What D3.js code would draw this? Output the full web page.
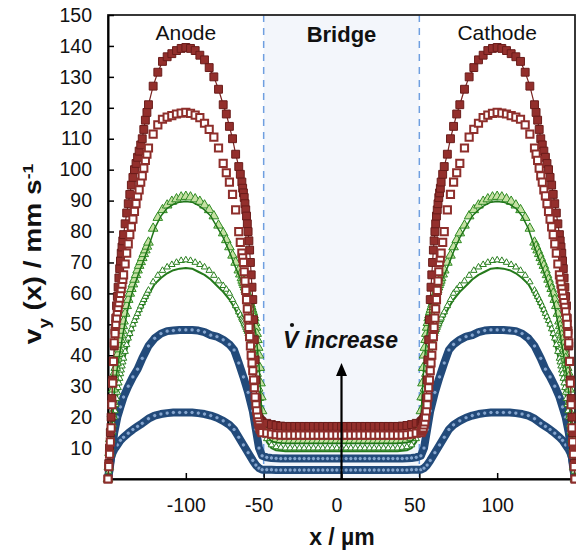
<!DOCTYPE html>
<html><head><meta charset="utf-8">
<script src="https://cdn.jsdelivr.net/npm/d3@7"></script>
<style>
html,body{margin:0;padding:0;background:#fff;}
svg{display:block;font-family:"Liberation Sans",Arial,Helvetica,sans-serif;}
</style></head><body>
<svg id="chart" width="576" height="552"></svg>
<script>
// ---------- data ----------
// x positions (µm): anode channel, bridge, cathode channel
const xLeft = [-150,-149,-148,-147,-146,-144,-142,-140,-137,-134,-131,-128,-124,-120,-116,-112,-108,-104,-100,-96,-92,-88,-84,-80,-76,-72,-69,-66,-63,-60,-57,-55,-53,-51];
const xBridge = [-48,-45,-42,-39,-36,-33,-30,-27,-24,-21,-18,-15,-12,-9,-6,-3,0,3,6,9,12,15,18,21,24,27,30,33,36,39,42,45,48];
const xRight = [51,53,55,57,60,63,66,69,72,76,80,84,88,92,96,100,104,108,112,116,120,124,128,131,134,137,140,142,144,146,147,148,149,150];
// finer x positions used by the marker series
const xDenseL = [-150,-149.5,-149,-148.5,-148,-147.5,-147,-146.5,-146,-145.5,-145,-144.5,-144,-143.5,-143,-142.5,-142,-141.5,-141,-140.5,-140,
  -139,-138,-137,-136,-135,-134,-133,-132,-131,-130,-129,-128,-127,-126,-125,-124,
  -121,-118,-115,-112,-109,-106,-103,-100,-97,-94,-91,-88,-85,-82,-79,
  -76,-74,-72,-70,-68,-66,-65,-64,
  -63.5,-63,-62.5,-62,-61.5,-61,-60.5,-60,-59.5,-59,-58.5,-58,-57.5,-57,-56.5,-56,-55.5,-55,-54.5,-54,-53.5,-53,-52.5,-52,-51.5,-51];
const xDenseR = [51,51.5,52,52.5,53,53.5,54,54.5,55,55.5,56,56.5,57,57.5,58,58.5,59,59.5,60,60.5,61,61.5,62,62.5,63,63.5,
  64,65,66,68,70,72,74,76,
  79,82,85,88,91,94,97,100,103,106,109,112,115,118,121,
  124,125,126,127,128,129,130,131,132,133,134,135,136,137,138,139,
  140,140.5,141,141.5,142,142.5,143,143.5,144,144.5,145,145.5,146,146.5,147,147.5,148,148.5,149,149.5,150];

const xTicks = [-100,-50,0,50,100];
const yTicks = [10,20,30,40,50,60,70,80,90,100,110,120,130,140,150];
const regionLabels = ["Anode","Bridge","Cathode"];
const regionCenters = [-100,0,100];
const bridgeEdges = [-50,50];

// red filled squares (highest flow rate) – dense grid
const redFilledL = [0,5,10,15,20,26,32,38,43,48,52,56,59,62,65,68,70.5,73,75,77,79,
  82.5,86,89,92,95,97.5,100,102,104,106,108,110,113,116,118.5,121,
  127,131.5,135,136.5,137.5,138.5,139.2,139.5,139.2,138.5,137,135.5,133,130,126,
  121,118,114,110,105,101,98.5,96,
  94,92.5,91,89,87,85,82.5,80,77,74,70,66,62,58,51.5,45,38.5,32,26,21,20,19.5,19,18.8,18.6,18.4];
const redFilledB = [18,17.6,17.3,17.1, 17,17,17,17,17, 17,17,17,17,17, 17,17,17,17,17, 17,17,17,17,17, 17,17,17,17,17, 17.1,17.3,17.6,18];
const redFilledR = [18.4,18.6,18.8,19,19.5,20,21,26,32,38.5,45,51.5,58,62,66,70,74,77,80,82.5,85,87,89,91,92.5,94,
  96,98.5,101,105,110,114,118,121,
  126,130,133,135.5,137,138.5,139.2,139.5,139.2,138.5,137.5,136.5,135,131.5,127,
  121,118.5,116,113,110,108,106,104,102,100,97.5,95,92,89,86,82.5,
  79,77,75,73,70.5,68,65,62,59,56,52,48,43,38,32,26,20,15,10,5,0];
// red open squares – dense grid
const redOpenL = [0,4,8,12,16.5,24,31,38,44,47,50,52,54,55.5,57,58.5,60,61.5,63,64.5,66,
  69.5,73,76,79,81.5,84,86.5,89,91.5,93.5,96,98,100.5,103,105,107,
  111.5,114.5,116.3,117,117.5,118,118.3,118.5,118.2,117.6,116.8,115,113,110.5,107,
  102,99,96,92,87,80,76.5,73,
  71.5,70,67,64,61,58,55,52,49,46,43,40,37.5,35,32,29.5,26.5,24,22,20,18.5,17.5,16.5,16,15.5,15];
const redOpenB = [14.8,14.5,14.3,14.2, 14.2,14.2,14.2,14.2,14.2, 14.2,14.2,14.2,14.2,14.2, 14.2,14.2,14.2,14.2,14.2, 14.2,14.2,14.2,14.2,14.2, 14.2,14.2,14.2,14.2,14.2, 14.2,14.3,14.5,14.8];
const redOpenR = [15,15.5,16,16.5,17.5,18.5,20,22,24,26.5,29.5,32,35,37.5,40,43,46,49,52,55,58,61,64,67,70,71.5,
  73,76.5,80,87,92,96,99,102,
  107,110.5,113,115,116.8,117.6,118.2,118.5,118.3,118,117.5,117,116.3,114.5,111.5,
  107,105,103,100.5,98,96,93.5,91.5,89,86.5,84,81.5,79,76,73,69.5,
  66,64.5,63,61.5,60,58.5,57,55.5,54,52,50,47,44,38,31,24,16.5,12,8,4,0];
// light green triangles – dense grid
const greenFillL = [0,4,8.5,13,17,21,25,29,33,34.5,36,37.5,39,40.5,42,43.5,45,46.5,48,49.5,51,
  53.5,56,58,60,61.5,63,64.5,66,67.5,69,70.2,71.5,72.8,74,75.2,76.5,
  81,84.5,87,88.5,89.7,90.5,91.1,91.3,91.1,90.5,89.7,88.5,87,85,82,
  79.5,77.3,75,72.3,70,67.5,66.2,65,
  64.2,63.5,62.8,62,61.2,60.5,59.8,59,58.2,57.3,56.5,55.7,54.8,54,53,52,50.5,49,47,45,42.5,40,36,31,26.5,22];
const greenFillB = [15,13.3,12.8,12.6, 12.5,12.5,12.5,12.5,12.5, 12.5,12.5,12.5,12.5,12.5, 12.5,12.5,12.5,12.5,12.5, 12.5,12.5,12.5,12.5,12.5, 12.5,12.5,12.5,12.5,12.5, 12.6,12.8,13.3,15];
const greenFillR = [22,26.5,31,36,40,42.5,45,47,49,50.5,52,53,54,54.8,55.7,56.5,57.3,58.2,59,59.8,60.5,61.2,62,62.8,63.5,64.2,
  65,66.2,67.5,70,72.3,75,77.3,79.5,
  82,85,87,88.5,89.7,90.5,91.1,91.3,91.1,90.5,89.7,88.5,87,84.5,81,
  76.5,75.2,74,72.8,71.5,70.2,69,67.5,66,64.5,63,61.5,60,58,56,53.5,
  51,49.5,48,46.5,45,43.5,42,40.5,39,37.5,36,34.5,33,29,25,21,17,13,8.5,4,0];
// small dark green triangles (~70) – dense grid
const greenTriL = [0,2.5,5,7.5,10,12.5,15,17.5,20,22,24,26,28,29.5,31,32.5,34,35.2,36.5,37.8,39,
  41.2,43.4,45.5,47,48.5,50,51.2,52.4,53.5,54.7,55.9,57,58,59,60,61,
  63.7,65.8,67.4,68.5,69.3,70,70.6,70.8,70.6,70,69.3,68.5,67.4,65.8,64,
  62.5,61.3,60,58,56,54,53,52,
  51.5,51,50.3,49.7,49,48.3,47.7,47,46.3,45.7,45,44.3,43.7,43,42,41,40,39,37.2,35.5,33.8,32,29,26,23,20];
const greenTriB = [13,11,10.4,10.2, 10,10,10,10,10, 10,10,10,10,10, 10,10,10,10,10, 10,10,10,10,10, 10,10,10,10,10, 10.2,10.4,11,13];
const greenTriR = [20,23,26,29,32,33.8,35.5,37.2,39,40,41,42,43,43.7,44.3,45,45.7,46.3,47,47.7,48.3,49,49.7,50.3,51,51.5,
  52,53,54,56,58,60,61.3,62.5,
  64,65.8,67.4,68.5,69.3,70,70.6,70.8,70.6,70,69.3,68.5,67.4,65.8,63.7,
  61,60,59,58,57,55.9,54.7,53.5,52.4,51.2,50,48.5,47,45.5,43.4,41.2,
  39,37.8,36.5,35.2,34,32.5,31,29.5,28,26,24,22,20,17.5,15,12.5,10,7.5,5,2.5,0];
// dark green line (partner of light green)
const greenLineAL = [0,7,14,21,28,36,42,48,55.5,61,65.5,69.5,75,81,85,87.5,88.8,89.5,89.7,89.5,88.5,87,85,81.5,78,73.5,69.5,66,62,57.5,52.5,47,37,20];
const greenLineAB = [14,12.2,11.8,11.6, 11.5,11.5,11.5,11.5,11.5, 11.5,11.5,11.5,11.5,11.5, 11.5,11.5,11.5,11.5,11.5, 11.5,11.5,11.5,11.5,11.5, 11.5,11.5,11.5,11.5,11.5, 11.6,11.8,12.2,14];
const greenLineAR = [20,37,47,52.5,57.5,62,66,69.5,73.5,78,81.5,85,87,88.5,89.5,89.7,89.5,88.8,87.5,85,81,75,69.5,65.5,61,55.5,48,42,36,28,21,14,7,0];
// dark green line (~68)
const greenLineBL = [0,5,10,14,19,27,33,38,44,49,52.5,55.5,59.5,63,65,66.5,67.5,68,68.2,68,67,66,64.5,62.5,60.5,58,55.5,52.5,49.5,46,42,38,30,18];
const greenLineBB = [12,10,9.3,9.1, 9,9,9,9,9, 9,9,9,9,9, 9,9,9,9,9, 9,9,9,9,9, 9,9,9,9,9, 9.1,9.3,10,12];
const greenLineBR = [18,30,38,42,46,49.5,52.5,55.5,58,60.5,62.5,64.5,66,67,68,68.2,68,67.5,66.5,65,63,59.5,55.5,52.5,49,44,38,33,27,19,14,10,5,0];
// blue (~48)
const blueHighL = [0,3,7,11,15,20,23.3,26.5,30,33,35.5,39,43,45.5,47,47.8,48,48.2,48.2,48.2,48,47.5,46.5,46,45,43.5,41.7,37.5,33,28,22,16,10,7.5];
const blueHighB = [7,6.8,6.7,6.6, 6.6,6.6,6.6,6.6,6.6, 6.6,6.6,6.6,6.6,6.6, 6.6,6.6,6.6,6.6,6.6, 6.6,6.6,6.6,6.6,6.6, 6.6,6.6,6.6,6.6,6.6, 6.6,6.7,6.8,7];
const blueHighR = [7.5,10,16,22,28,33,37.5,41.7,43.5,45,46,46.5,47.5,48,48.2,48.2,48.2,48,47.8,47,45.5,43,39,35.5,33,30,26.5,23.3,20,15,11,7,3,0];
// blue (~21)
const blueLowL = [0,4,7,8.5,9.5,11,12.5,13.5,14.8,16,17,18,19.5,20.5,21,21.3,21.5,21.5,21.5,21.5,21.3,21,20.5,19.8,18.8,17.5,16,13.5,11,8.5,6,4.5,3.5,3];
const blueLowB = [3,3,2.9,2.9, 2.9,2.9,2.9,2.9,2.9, 2.9,2.9,2.9,2.9,2.9, 2.9,2.9,2.9,2.9,2.9, 2.9,2.9,2.9,2.9,2.9, 2.9,2.9,2.9,2.9,2.9, 2.9,2.9,3,3];
const blueLowR = [3,3.5,4.5,6,8.5,11,13.5,16,17.5,18.8,19.8,20.5,21,21.3,21.5,21.5,21.5,21.5,21.3,21,20.5,19.5,18,17,16,14.8,13.5,12.5,11,9.5,8.5,7,4,0];

// ---------- build ----------
const xsCoarse = xLeft.concat(xBridge, xRight);
const xsDense = xDenseL.concat(xBridge, xDenseR);
function join(xs, L, B, R){
  const vals = L.concat(B, R);
  const n = Math.min(xs.length, vals.length);
  if (xs.length !== vals.length) console.error("length mismatch", xs.length, vals.length);
  return vals.slice(0,n).map((v,i)=>({x:xs[i], v:v}));
}
const series = [
  {key:"blueLow",    pts: join(xsCoarse, blueLowL, blueLowB, blueLowR)},
  {key:"blueHigh",   pts: join(xsCoarse, blueHighL, blueHighB, blueHighR)},
  {key:"greenLineB", pts: join(xsCoarse, greenLineBL, greenLineBB, greenLineBR)},
  {key:"greenTri",   pts: join(xsDense, greenTriL, greenTriB, greenTriR)},
  {key:"greenFill",  pts: join(xsDense, greenFillL, greenFillB, greenFillR)},
  {key:"greenLineA", pts: join(xsCoarse, greenLineAL, greenLineAB, greenLineAR)},
  {key:"redFilled",  pts: join(xsDense, redFilledL, redFilledB, redFilledR)},
  {key:"redOpen",    pts: join(xsDense, redOpenL, redOpenB, redOpenR)}
];
const styles = {
  blueLow:    {line:{c:"#224a7a", w:8}, sym:d3.symbolCircle, size:14, fill:"#86a6cf", stroke:"#1d4474", sw:0.8},
  blueHigh:   {line:{c:"#224a7a", w:8}, sym:d3.symbolCircle, size:14, fill:"#86a6cf", stroke:"#1d4474", sw:0.8},
  greenLineB: {line:{c:"#257a1c", w:2}},
  greenTri:   {sym:d3.symbolTriangle, size:18, fill:"#ffffff", stroke:"#2a8020", sw:1},
  greenFill:  {sym:d3.symbolTriangle, size:40, fill:"#c6e1a4", stroke:"#2e8a22", sw:1},
  greenLineA: {line:{c:"#1f7518", w:1.5}},
  redFilled:  {line:{c:"#7a2321", w:1.2}, sym:d3.symbolSquare, size:62, fill:"#932f2c", stroke:"#6a1c1a", sw:1},
  redOpen:    {sym:d3.symbolSquare, size:52, fill:"#ffffff", stroke:"#8e2e2b", sw:2}
};

const svg = d3.select("#chart");
const x = d3.scaleLinear().domain([-150,150]).range([108,575]);
const y = d3.scaleLinear().domain([0,150]).range([479,15]);

svg.append("rect").attr("width",576).attr("height",552).attr("fill","#fff");

// bridge background
svg.append("rect")
  .attr("x", x(bridgeEdges[0])).attr("y", y(150))
  .attr("width", x(bridgeEdges[1]) - x(bridgeEdges[0]))
  .attr("height", y(0) - y(150))
  .attr("fill","#f3f6fb");
bridgeEdges.forEach(e=>{
  svg.append("line").attr("x1",x(e)).attr("x2",x(e)).attr("y1",y(150)).attr("y2",y(0))
    .attr("stroke","#6f9fe0").attr("stroke-width",1.5).attr("stroke-dasharray","7,6");
});

// frame
svg.append("rect").attr("x",x(-150)).attr("y",y(150))
  .attr("width",x(150)-x(-150)).attr("height",y(0)-y(150))
  .attr("fill","none").attr("stroke","#222").attr("stroke-width",1.8);

// axes
const gx = svg.append("g").attr("transform",`translate(0,${y(0)})`)
  .call(d3.axisBottom(x).tickValues(xTicks).tickFormat(d3.format("d")).tickSizeInner(-6).tickSizeOuter(0).tickPadding(19));
const gy = svg.append("g").attr("transform",`translate(${x(-150)},0)`)
  .call(d3.axisLeft(y).tickValues(yTicks).tickFormat(d3.format("d")).tickSizeInner(-6).tickSizeOuter(0).tickPadding(16));
[gx,gy].forEach(g=>{
  g.select(".domain").attr("stroke","#000").attr("stroke-width",2);
  g.selectAll(".tick line").attr("stroke","#000").attr("stroke-width",1.5);
  g.selectAll(".tick text").attr("fill","#111").style("font-size","19.5px")
   .style("font-family",'"Liberation Sans",Arial,sans-serif');
});
gx.selectAll(".tick text").text(d=> d<0 ? "-"+Math.abs(d) : String(d))
  .attr("dx", d=> Math.abs(d)===100 ? 0 : -5);

// series
const lineGen = d3.line().x(d=>x(d.x)).y(d=>y(d.v));
series.forEach(s=>{
  const st = styles[s.key];
  const g = svg.append("g");
  if (st.line) {
    g.append("path").datum(s.pts).attr("d",lineGen).attr("fill","none")
      .attr("stroke",st.line.c).attr("stroke-width",st.line.w).attr("stroke-linejoin","round");
  }
  if (st.sym) {
    const sym = d3.symbol().type(st.sym).size(st.size);
    g.selectAll("path.m").data(s.pts).enter().append("path").attr("class","m")
      .attr("d",sym).attr("transform",d=>`translate(${x(d.x)},${y(d.v)})`)
      .attr("fill",st.fill).attr("stroke",st.stroke).attr("stroke-width",st.sw);
  }
});

// arrow
const arrowTop = 37.5;
svg.append("line").attr("x1",x(0)).attr("x2",x(0)).attr("y1",y(0)).attr("y2",y(arrowTop)+8)
  .attr("stroke","#000").attr("stroke-width",2.2);
svg.append("path")
  .attr("d",`M${x(0)},${y(arrowTop)} L${x(0)-5.5},${y(arrowTop)+13} L${x(0)+5.5},${y(arrowTop)+13} Z`)
  .attr("fill","#000");

// V-dot increase label
const vt = svg.append("text").attr("x",x(0)-1).attr("y",348).attr("text-anchor","middle")
  .style("font-size","23px").style("font-weight","bold").style("font-style","italic").attr("fill","#111");
vt.append("tspan").text("V");
vt.append("tspan").text(" increase");
svg.append("circle").attr("cx",292).attr("cy",325).attr("r",2.1).attr("fill","#111");

// region labels
regionLabels.forEach((t,i)=>{
  svg.append("text").attr("x",x(regionCenters[i])).attr("y", i===1 ? 42 : 39.5)
    .attr("text-anchor","middle").attr("fill","#111")
    .style("font-size", i===1 ? "22px" : "21px").style("font-weight", i===1 ? "bold" : "normal")
    .text(t);
});

// axis titles
svg.append("text").attr("x",342).attr("y",545).attr("text-anchor","middle")
  .style("font-size","23px").style("font-weight","bold").attr("fill","#111").text("x / µm");
const yl = svg.append("text").attr("transform","translate(41,254) rotate(-90) scale(1.17,1)").attr("text-anchor","middle")
  .style("font-size","24px").style("font-weight","bold").attr("fill","#111");
yl.append("tspan").text("v");
yl.append("tspan").attr("baseline-shift","sub").style("font-size","16px").text("y");
yl.append("tspan").text(" (x) / mm s");
yl.append("tspan").attr("baseline-shift","super").style("font-size","15px").text("-1");
</script>
</body></html>
